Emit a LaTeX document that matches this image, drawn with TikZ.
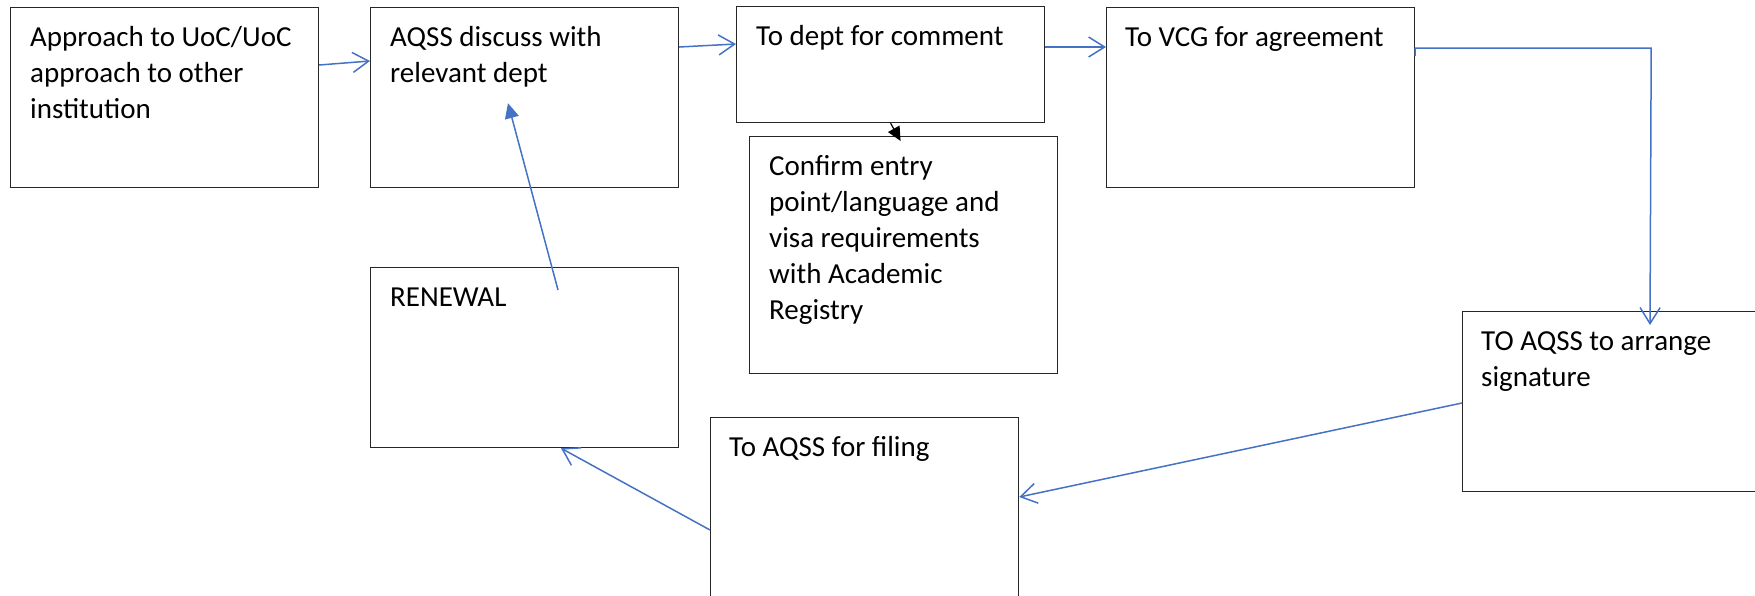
\documentclass[tikz,border=0pt]{standalone}
\usepackage{fontspec}
\setmainfont{Carlito}
\usetikzlibrary{arrows.meta,calc}
\definecolor{flowblue}{HTML}{4472C4}
\newcommand{\firstline}{\rule{0pt}{39pt}}
\tikzset{
	box/.style={draw=black!85, line width=1.2pt, anchor=north west, inner sep=0pt, minimum width=308pt, minimum height=180pt},
	boxtext/.style={anchor=north west, inner sep=0pt, align=left, font=\fontsize{29}{36}\selectfont},
	link/.style={draw=flowblue, line width=1.5pt, line join=round, -{Straight Barb[length=16pt,width=20pt]}},
	back/.style={draw=flowblue, line width=1.5pt, -{Triangle[length=15pt,width=14pt]}}
}
\begin{document}
\begin{tikzpicture}[x=1pt, y=-1pt]
	\useasboundingbox (0,0) rectangle (1755,595);
	\clip (0,0) rectangle (1755,595);
	% Các hộp
	\node[box] (b1) at (10,7) {};
	\node[box] (b2) at (370,7) {};
	\node[box, minimum height=116pt] (b3) at (736,6) {};
	\node[box] (b4) at (1106,7) {};
	\node[box, minimum height=237pt] (b5) at (749,136) {};
	\node[box] (b6) at (370,267) {};
	\node[box] (b7) at (1462,311) {};
	\node[box] (b8) at (710,417) {};
	% Chữ trong các hộp
	\node[boxtext] (t1) at ($(b1.north west)+(20,0)$) {\firstline Approach to UoC/UoC\\approach to other\\institution};
	\node[boxtext] (t2) at ($(b2.north west)+(20,0)$) {\firstline AQSS discuss with\\relevant dept};
	\node[boxtext] (t3) at ($(b3.north west)+(20,0)$) {\firstline To dept for comment};
	\node[boxtext] (t4) at ($(b4.north west)+(19,0)$) {\firstline To VCG for agreement};
	\node[boxtext] (t5) at ($(b5.north west)+(20,0)$) {\firstline Confirm entry\\point/language and\\visa requirements\\with Academic\\Registry};
	\node[boxtext] (t6) at ($(b6.north west)+(20,0)$) {\firstline RENEWAL};
	\node[boxtext] (t7) at ($(b7.north west)+(19,0)$) {\firstline TO AQSS to arrange\\signature};
	\node[boxtext] (t8) at ($(b8.north west)+(19,0)$) {\firstline To AQSS for filing};
	% Các mũi tên
	\draw[link] ($(b1.north east)+(0,58)$) -- ($(b2.north west)+(0,54)$);
	\draw[link] ($(b2.north east)+(0,40)$) -- ($(b3.north west)+(0,38)$);
	\draw[link] ($(b3.north east)+(0,41)$) -- ($(b4.north west)+(0,40)$);
	\draw[link] ($(b4.north east)+(0,49)$) |- ($(b4.north east)+(236,41)$) -- ($(b7.north west)+(188,14)$);
	\draw[link] ($(b7.north west)+(0,92)$) -- ($(b8.north east)+(0,80)$);
	\draw[link] ($(b8.north west)+(0,113)$) -- ($(b6.south west)+(191,0)$);
	\draw[back] ($(b6.north west)+(188,23)$) -- ($(b2.south west)+(138,-85)$);
	\draw[black, line width=1.2pt, -{Triangle[length=14pt,width=13pt]}] (b3.south) -- ($(b5.north)+(-3,5)$);
\end{tikzpicture}
\end{document}
